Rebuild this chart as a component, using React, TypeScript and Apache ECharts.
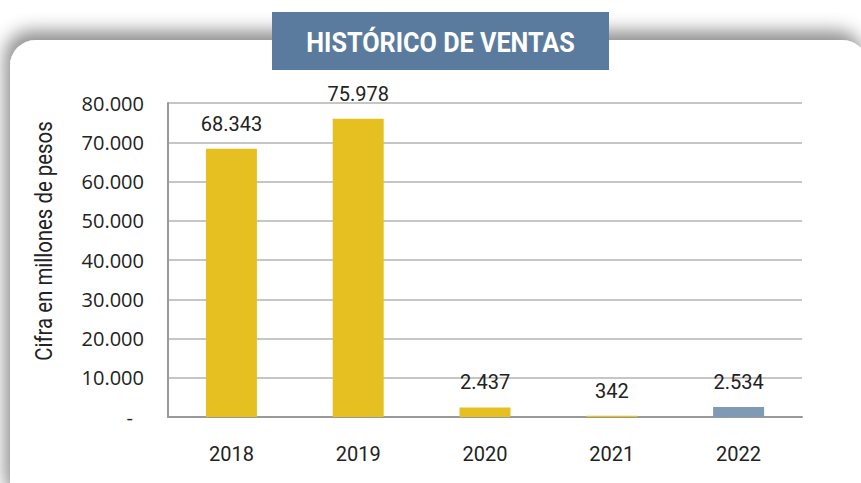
import React, { useEffect, useRef } from "react";
import * as echarts from "echarts";

const categories = ["2018", "2019", "2020", "2021", "2022"];
const ventas = [68343, 75978, 2437, 342, 2534];
const barColors = ["#e5c020", "#e5c020", "#e5c020", "#e5c020", "#7f9ab4"];
const yTicks = [0, 10000, 20000, 30000, 40000, 50000, 60000, 70000, 80000];
const titleText = "HISTÓRICO DE VENTAS";
const yAxisTitle = "Cifra en millones de pesos";

const narrow = "'Liberation Sans Narrow', 'Roboto', sans-serif";
const fmt = (v: number) => {
  if (v === 0) return "{d|-}";
  return Math.round(v).toString().replace(/\B(?=(\d{3})+(?!\d))/g, ".");
};

export default function App() {
  const ref = useRef<HTMLDivElement>(null);
  useEffect(() => {
    document.body.style.margin = "0";
    const chart = echarts.init(ref.current!, null, { renderer: "svg" });
    chart.setOption({
      animation: false,
      backgroundColor: "#ffffff",
      grid: { left: 168, right: 59, top: 103, bottom: 66, containLabel: false },
      xAxis: {
        type: "category",
        data: categories,
        axisTick: { show: false },
        axisLine: { lineStyle: { color: "#999999", width: 2 } },
        axisLabel: { fontFamily: narrow, fontSize: 20, color: "#222222", margin: 27 },
      },
      yAxis: {
        type: "value",
        min: yTicks[0],
        max: yTicks[yTicks.length - 1],
        interval: 10000,
        axisLine: { show: true, lineStyle: { color: "#999999", width: 2 } },
        axisTick: { show: false },
        splitLine: { lineStyle: { color: "#c6c6c6", width: 2 } },
        axisLabel: {
          fontFamily: "'Open Sans', sans-serif",
          fontSize: 20,
          color: "#222222",
          margin: 24,
          formatter: fmt,
          rich: { d: { fontFamily: "'Open Sans', sans-serif", fontSize: 20, color: "#222222", padding: [0, 11, 0, 0] } },
        },
      },
      series: [
        {
          type: "bar",
          barWidth: 51,
          data: ventas.map((v, i) => ({ value: v, itemStyle: { color: barColors[i] } })),
          label: {
            show: true,
            position: "top",
            distance: 15,
            fontFamily: narrow,
            fontSize: 20,
            color: "#222222",
            formatter: (p: any) => fmt(p.value),
          },
        },
      ],
      graphic: [
        {
          type: "rect",
          z: -10,
          silent: true,
          shape: { x: 10, y: 40, width: 858, height: 470, r: 26 },
          style: {
            fill: "#ffffff",
            shadowBlur: 18,
            shadowColor: "rgba(0,0,0,0.45)",
            shadowOffsetX: -5,
            shadowOffsetY: -9,
          },
        },
        {
          type: "rect",
          z: 10,
          shape: { x: 272, y: 12, width: 337, height: 58 },
          style: { fill: "#5b7b9e" },
        },
        {
          type: "text",
          z: 11,
          x: 440.5,
          y: 42.5,
          scaleX: 0.9,
          style: {
            text: titleText,
            fill: "#ffffff",
            fontFamily: narrow,
            fontWeight: "bold",
            fontSize: 28,
            align: "center",
            verticalAlign: "middle",
          },
        },
        {
          type: "text",
          z: 11,
          x: 43,
          y: 241,
          rotation: Math.PI / 2,
          scaleX: 0.85,
          style: {
            text: yAxisTitle,
            fill: "#222222",
            fontFamily: narrow,
            fontSize: 24,
            align: "center",
            verticalAlign: "middle",
          },
        },
      ],
    });
    return () => chart.dispose();
  }, []);
  return (
    <div
      ref={ref}
      style={{ position: "absolute", left: 0, top: 0, width: 861, height: 483 }}
    />
  );
}
